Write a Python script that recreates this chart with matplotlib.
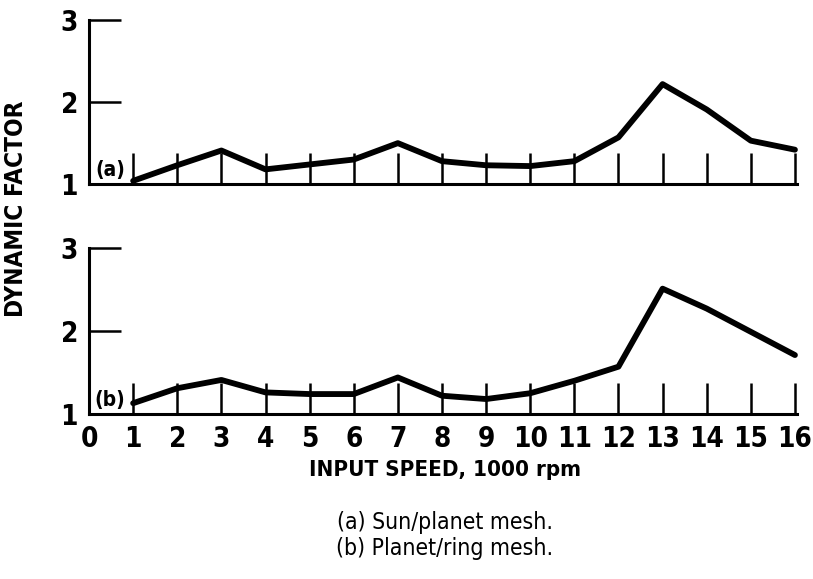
"""
Dynamic factor vs input speed, two gear meshes stacked.
"""

import numpy as np
import matplotlib
matplotlib.use("Agg")
import matplotlib.pyplot as plt

plt.rcParams['font.family'] = ['DejaVu Sans']
plt.rcParams['font.stretch'] = 'condensed'

speed = [1, 2, 3, 4, 5, 6, 7, 8, 9, 10, 11, 12, 13, 14, 15, 16]
sun_planet = [1.04, 1.23, 1.41, 1.18, 1.24, 1.30, 1.50, 1.28, 1.23, 1.22,
              1.28, 1.57, 2.22, 1.91, 1.53, 1.42]
planet_ring = [1.13, 1.31, 1.41, 1.26, 1.24, 1.24, 1.44, 1.22, 1.18, 1.25,
               1.40, 1.57, 2.51, 2.27, 1.99, 1.71]
xticks = list(range(0, 17))
yticks = [1, 2, 3]

fig = plt.figure(figsize=(8.13, 5.79), dpi=100)
ax1 = fig.add_axes([0.1095, 0.682, 0.871, 0.2832])
ax2 = fig.add_axes([0.1095, 0.285, 0.871, 0.2867])

for ax, vals, tag in [(ax1, sun_planet, '(a)'), (ax2, planet_ring, '(b)')]:
    ax.plot(speed, vals, color='black', lw=4.2, solid_capstyle='round',
            solid_joinstyle='round', clip_on=False, zorder=3)
    ax.set_xlim(0, 16.05)
    ax.set_ylim(1, 3)
    ax.spines['top'].set_visible(False)
    ax.spines['right'].set_visible(False)
    ax.spines['left'].set_linewidth(2.2)
    ax.spines['bottom'].set_linewidth(2.2)
    ax.set_yticks(yticks)
    ax.set_yticklabels([str(v) for v in yticks])
    ax.set_xticks(speed)
    ax.tick_params(axis='y', direction='in', length=23, width=1.8, pad=8,
                   labelsize=20)
    ax.tick_params(axis='x', direction='in', length=22, width=1.8, pad=8,
                   labelsize=20)
    for lab in ax.get_yticklabels():
        lab.set_fontweight('bold')
    ax.text(0.48, 1.17, tag, fontsize=15, fontweight='bold', ha='center',
            va='center')

ax1.set_xticklabels([])
ax2.set_xticks(xticks)
ax2.set_xticklabels([str(v) for v in xticks])
for lab in ax2.get_xticklabels():
    lab.set_fontweight('bold')
ax2.xaxis.get_major_ticks()[0].tick1line.set_visible(False)

fig.text(0.547, 0.188, 'INPUT SPEED, 1000 rpm', fontsize=16,
         fontweight='bold', ha='center', va='center')
fig.text(0.02, 0.64, 'DYNAMIC FACTOR', fontsize=17.5, fontweight='bold',
         rotation=90, ha='center', va='center')
fig.text(0.547, 0.098, '(a) Sun/planet mesh.', fontsize=16.5,
         ha='center', va='center')
fig.text(0.547, 0.053, '(b) Planet/ring mesh.', fontsize=16.5,
         ha='center', va='center')

fig.savefig('out.png', dpi=100)
